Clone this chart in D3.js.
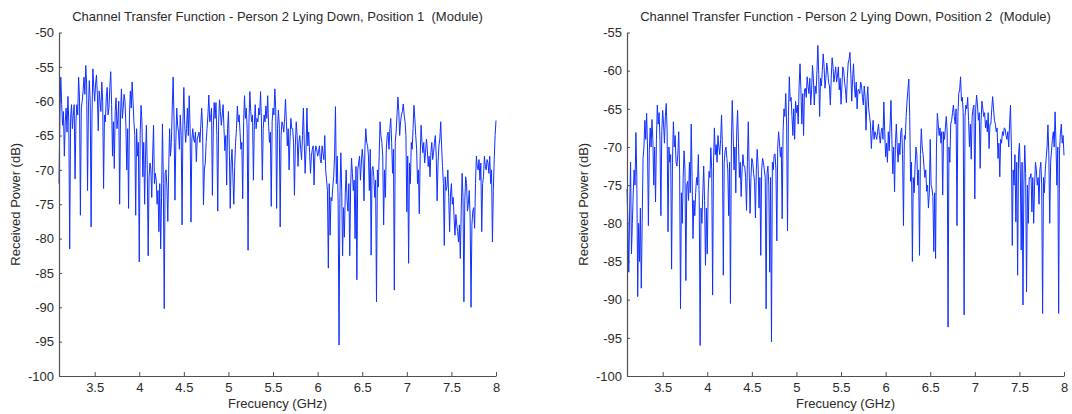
<!DOCTYPE html>
<html>
<head>
<meta charset="utf-8">
<script src="https://cdn.jsdelivr.net/npm/d3@7/dist/d3.min.js"></script>
<style>
  body { margin: 0; background: #ffffff; }
  svg { display: block; }
  text { font-family: Arial, "Liberation Sans", sans-serif; fill: #2a2a2a; }
</style>
</head>
<body>
<svg id="chart" width="1072" height="414"></svg>
<script>
// Frequency sweep: 3.1 GHz to 8 GHz in 10 MHz steps
const sweepStartGHz = 3.1;
const sweepStepGHz = 0.01;

// Tick labels
const freqTicks = [3.5, 4, 4.5, 5, 5.5, 6, 6.5, 7, 7.5, 8];
const powerTicks1 = [-100, -95, -90, -85, -80, -75, -70, -65, -60, -55, -50];
const powerTicks2 = [-100, -95, -90, -85, -80, -75, -70, -65, -60, -55];

// Received power (dB), Person 2 lying down, position 1
const powerPosition1 = [
  -72, -62, -56.5, -60.5, -63.5, -61.5, -68, -63, -61, -64.5,
  -59.3, -63, -81.5, -62.5, -60.5, -64, -62, -60.5, -71.3, -63,
  -60.5, -62, -56.5, -59.5, -76.6, -61, -60, -58.5, -56.5, -59,
  -54.8, -57.5, -73, -61, -57, -60, -78.3, -62, -55.3, -58,
  -60, -57.5, -56.2, -59, -64.3, -58.5, -60, -61.5, -57.2, -60,
  -72.7, -62, -63, -59.5, -58, -62, -61, -58, -55.7, -60.5,
  -68, -63, -69.8, -61.5, -59.5, -64, -62.5, -60, -75, -62,
  -58.2, -62.5, -61, -59, -60, -63.5, -70, -64, -75.6, -62,
  -58.5, -61, -57.2, -60, -63, -65, -76.6, -64, -68, -66,
  -83.4, -65, -60.6, -63, -71, -66, -75, -68, -63.5, -70,
  -82.5, -71, -69, -70, -74, -68, -63.5, -72, -70.5, -71.5,
  -75, -73, -79, -72, -81.5, -74, -63.3, -72, -90.2, -70.5,
  -70, -72.5, -77.5, -70, -64, -68, -66, -61, -56.5, -63,
  -74.4, -66, -61, -63.5, -64.5, -67, -62, -65, -78, -63,
  -58, -63.5, -66, -64, -61, -65, -59.2, -64, -77.6, -65.5,
  -64, -65.5, -66, -64.5, -68.8, -65.5, -65, -64.5, -66, -63.5,
  -61, -64, -75.1, -70, -69, -66, -64, -62, -59.1, -63,
  -62.5, -61, -73.7, -64, -60.2, -62.5, -60.2, -65, -76, -63,
  -59.8, -61.5, -63.5, -62, -60.5, -64, -67.2, -65, -72.2, -64,
  -61.5, -67, -75.6, -69, -67, -71, -75, -69.5, -66, -64,
  -60.7, -63, -62, -64.5, -67, -66, -74.2, -63, -59.2, -62.5,
  -61, -64, -81.7, -63, -58.6, -61.5, -63, -62, -71.5, -63.5,
  -60.5, -64, -62.5, -63, -61, -62, -58.6, -63, -71.5, -64,
  -62, -63, -60.7, -62.5, -59.2, -63.5, -66, -64.5, -75.3, -63,
  -61, -62, -58.2, -61, -75.6, -64, -61.3, -63.5, -78.3, -65,
  -63, -63.5, -64.5, -62.5, -59.7, -63, -66.5, -64, -70, -65.5,
  -62.5, -64, -64, -66, -73.7, -66.5, -63, -65, -69.5, -66,
  -65, -67, -68.5, -65, -61, -66, -70.5, -67, -61, -66.5,
  -64.5, -67.5, -70.5, -68, -67, -66.5, -72.2, -67.5, -66.5, -67,
  -68, -67.5, -66.5, -68.5, -69, -66.5, -67.5, -68.5, -65, -70,
  -71.5, -73, -84.3, -72, -79.5, -74, -74.5, -72.5, -71, -68,
  -60.8, -72, -68, -75, -95.5, -74, -67.5, -73, -82.5, -75.5,
  -79.8, -73.5, -70, -74.5, -76, -72, -82.5, -72.5, -68.3, -70.5,
  -73, -71.5, -80, -69.5, -86, -70, -69, -68, -71.5, -69,
  -67, -68.5, -74.5, -67, -64, -66, -66.5, -68, -73, -67,
  -82.4, -70, -69.5, -71, -74, -71.5, -89.2, -70, -72.5, -68,
  -63, -65, -66, -68, -78, -70, -74, -67, -65, -64.5,
  -67, -64, -62.5, -66, -70.5, -67, -87.5, -66, -64.5, -62,
  -59.4, -61.5, -65, -63, -62, -61.5, -60.4, -62, -63, -65,
  -76.1, -68, -83.6, -69, -72, -66, -67, -64, -60.6, -62.5,
  -65, -67, -72, -70, -76.4, -68, -63.5, -66, -67.5, -66,
  -69, -67.5, -65.5, -67, -69.5, -68, -71, -67.5, -66, -68.5,
  -67.5, -66, -65, -68, -74.5, -69, -66.5, -65.5, -63, -66.5,
  -69.5, -72, -81, -71, -73, -72.5, -70, -74, -79, -73.5,
  -72, -75, -74, -77, -79.5, -76.5, -78, -79, -80.5, -78,
  -82.9, -76, -70.5, -74, -89.2, -74.5, -71, -72, -76, -75,
  -73, -77, -90, -78, -76, -75.5, -78.5, -72, -68, -69.5,
  -70, -68.5, -71.5, -69, -79, -72, -71, -68, -69.5, -70,
  -68.5, -69, -70.5, -68, -72, -70, -80.5, -73, -68.5, -65,
  -62.8
];

// Received power (dB), Person 2 lying down, position 2
const powerPosition2 = [
  -75.5, -80, -86.4, -78, -72, -84, -80, -76, -73, -75,
  -68.1, -74, -89.6, -80, -85, -78, -88.5, -80, -71.5, -70,
  -66.5, -69, -65.6, -70, -80.3, -70.5, -67.5, -70, -66.4, -69,
  -75, -70, -77.2, -69, -64.5, -67, -65.5, -69, -79, -68,
  -65.2, -67, -69.5, -66, -64.3, -68, -81.1, -70, -72, -71,
  -86, -72, -66.7, -70, -68.5, -72, -72.5, -71, -68, -73,
  -91.2, -76, -80, -74, -70.5, -73, -87.5, -75, -74.5, -77,
  -72, -76, -67, -74, -82, -77, -79, -76, -74, -75,
  -71, -77, -96, -78, -80, -76, -72.5, -77, -85.5, -78,
  -84, -76, -73.2, -74, -70.1, -73, -89.4, -72, -67.5, -71,
  -69.7, -72, -68.5, -70, -71, -69, -65.8, -70, -86.8, -72,
  -70.5, -70, -71.5, -73, -79, -72, -90.5, -70, -63.9, -68,
  -73, -70, -76, -68, -65.2, -69.5, -74, -72, -76.5, -73,
  -71, -72.5, -72.5, -74, -78.3, -72, -66.7, -73, -78.7, -74,
  -71.5, -72, -73.5, -74.5, -79.3, -73, -70.3, -72.5, -78, -74,
  -84.2, -73, -71.5, -72, -73, -74, -91.2, -73.5, -72.5, -75,
  -86.4, -74, -95.5, -72, -73, -71, -70.9, -73, -82.3, -70,
  -68, -69.5, -71.3, -70, -79.4, -68, -65, -66, -63, -67,
  -81, -66, -60.8, -64, -63.5, -66, -68.5, -65, -69, -64,
  -65.5, -64.5, -67, -62, -59.1, -62.5, -67, -63, -68.5, -62.5,
  -62.3, -63.5, -60.8, -62, -63, -61, -64.5, -62.5, -59.3, -61,
  -64.5, -62, -63, -60, -56.7, -60.5, -66, -61, -62, -60,
  -57.8, -59.5, -62.3, -61, -59, -60, -61.5, -62, -64.5, -61,
  -58.3, -59.5, -61.5, -60.5, -59.5, -61.5, -60.7, -59.5, -62.5, -61,
  -64.4, -62, -59.5, -60, -61.5, -62.5, -64.2, -61, -59, -58.5,
  -57.6, -60.5, -64, -61, -59.1, -62, -63.5, -61.5, -65, -62.5,
  -62.5, -63, -61.5, -62, -63.5, -64.5, -62, -63.5, -67.8, -64,
  -62.1, -65, -66, -67, -70.2, -68, -66.5, -69, -68, -68.5,
  -69, -68, -67, -68.5, -69.5, -68, -67.5, -69, -64.1, -68,
  -71.3, -69.5, -72, -68, -70.5, -67, -63.9, -69, -73.5, -70,
  -75.9, -69.5, -67, -70, -72, -69.5, -71, -68, -67.5, -71,
  -80.3, -68.5, -69, -66, -64, -62.5, -61.1, -66, -74.5, -72,
  -85, -74, -76, -72.5, -70, -71, -75, -73, -84.2, -71,
  -67.6, -70, -71, -72.5, -74, -73, -75.8, -75, -78, -76,
  -69, -75, -75.5, -76.5, -83.7, -76, -84.6, -70, -65.6, -67,
  -68.5, -67.5, -69.5, -68, -76.3, -68, -69, -67.5, -66, -68,
  -93.6, -70, -72, -67, -66.5, -65.5, -64.5, -66, -67, -65,
  -80.3, -66, -63, -62.5, -60.8, -64, -63.5, -65.5, -92, -66,
  -64.5, -65, -63.5, -66.5, -70, -67, -71.6, -66, -65, -64.5,
  -76.8, -65, -63.2, -64.5, -66.5, -65.5, -72.8, -66.5, -64, -65,
  -66, -65.5, -67.5, -66.5, -68, -65.5, -70.2, -67, -67, -65,
  -63.4, -65, -66.5, -67, -68, -67.5, -71.5, -69.5, -73.9, -69,
  -69.5, -68, -68.5, -67.5, -67.6, -68.5, -69, -68, -70, -67,
  -64.5, -70, -82.9, -73, -75, -71, -79.8, -72, -86.8, -71,
  -69.5, -73, -83.5, -72, -90.7, -75, -69.8, -73.5, -89, -75,
  -80, -74, -74.1, -73.5, -78.5, -74, -80, -75, -72, -73,
  -75, -74, -77.5, -73, -72, -75, -91.8, -74, -76, -73,
  -71.5, -70, -67.1, -71, -80, -72, -70.5, -69, -68, -70,
  -65.4, -69.5, -75, -70, -91.8, -70.5, -68.2, -67, -69.5, -68.5,
  -71.1
];

const panels = [
  {
    title: "Channel Transfer Function - Person 2 Lying Down, Position 1\u00a0\u00a0(Module)",
    power: powerPosition1, yDomain: [-100, -50], yTicks: powerTicks1,
    left: 59, right: 496, yLabelX: 20
  },
  {
    title: "Channel Transfer Function - Person 2 Lying Down, Position 2\u00a0\u00a0(Module)",
    power: powerPosition2, yDomain: [-100, -55], yTicks: powerTicks2,
    left: 627, right: 1064, yLabelX: 588
  }
];

const plotTop = 32.5, plotBottom = 376;
const svg = d3.select("#chart");
const axisColor = "#505050";
const lineColor = "#1030ff";
const fontSize = 13;

panels.forEach(p => {
  const points = p.power.map((v, i) => ({ f: sweepStartGHz + i * sweepStepGHz, v }));

  const x = d3.scaleLinear().domain([3.1, 8]).range([p.left, p.right]);
  const y = d3.scaleLinear().domain(p.yDomain).range([plotBottom, plotTop]);

  const g = svg.append("g");

  // trace
  g.append("path")
    .datum(points)
    .attr("fill", "none")
    .attr("stroke", lineColor)
    .attr("stroke-width", 1)
    .attr("d", d3.line().x(d => x(d.f)).y(d => y(d.v)));

  // x axis
  const xAxis = g.append("g")
    .attr("transform", `translate(0,${plotBottom})`)
    .call(d3.axisBottom(x).tickValues(freqTicks).tickFormat(d3.format("")).tickSizeInner(-4).tickSizeOuter(0).tickPadding(7));

  // y axis
  const yAxis = g.append("g")
    .attr("transform", `translate(${p.left},0)`)
    .call(d3.axisLeft(y).tickValues(p.yTicks).tickFormat(d => String(d)).tickSizeInner(-3).tickSizeOuter(0).tickPadding(5));

  [xAxis, yAxis].forEach(a => {
    a.select(".domain").attr("stroke", axisColor).attr("stroke-width", 1.2);
    a.selectAll(".tick line").attr("stroke", axisColor).attr("stroke-width", 1);
    a.selectAll(".tick text").attr("font-size", fontSize).attr("font-family", "Arial, 'Liberation Sans', sans-serif").attr("fill", "#2a2a2a");
  });

  const cx = (p.left + p.right) / 2;

  g.append("text")
    .attr("x", cx).attr("y", 21)
    .attr("text-anchor", "middle")
    .attr("font-size", fontSize)
    .text(p.title);

  g.append("text")
    .attr("x", cx).attr("y", 408)
    .attr("text-anchor", "middle")
    .attr("font-size", fontSize)
    .text("Frecuency (GHz)");

  g.append("text")
    .attr("transform", `translate(${p.yLabelX},${(plotTop + plotBottom) / 2}) rotate(-90)`)
    .attr("text-anchor", "middle")
    .attr("font-size", fontSize)
    .text("Received Power (dB)");
});
</script>
</body>
</html>
